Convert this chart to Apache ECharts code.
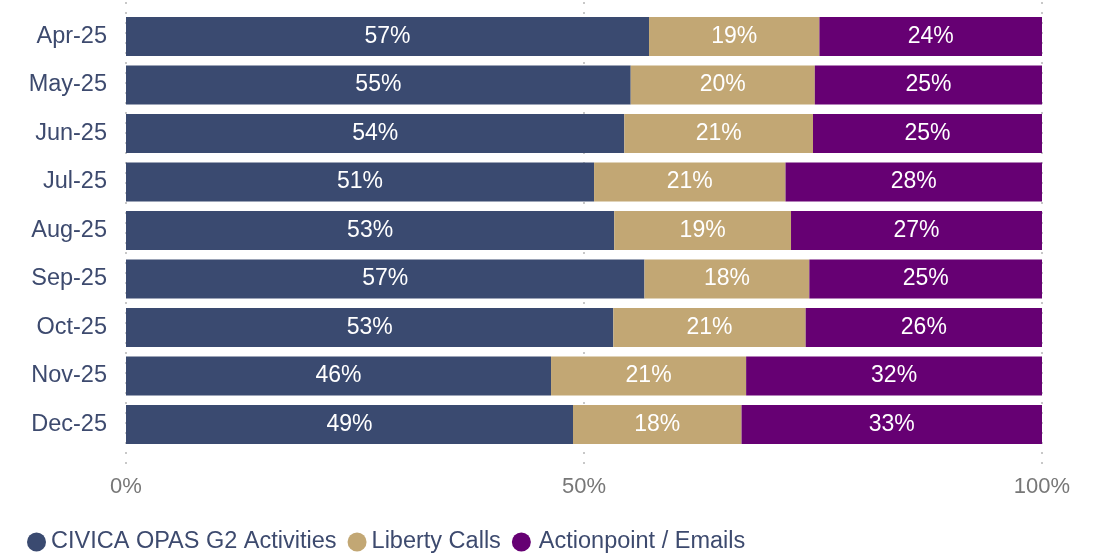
<!DOCTYPE html>
<html>
<head>
<meta charset="utf-8">
<style>
  html, body { margin: 0; padding: 0; background: #ffffff; }
  #chart { width: 1096px; height: 554px; }
</style>
<script src="https://cdn.jsdelivr.net/npm/echarts@6/dist/echarts.min.js"></script>
</head>
<body>
<div id="chart"></div>
<script>
// Monthly share of work by channel (percent of total)
const months = ['Apr-25', 'May-25', 'Jun-25', 'Jul-25', 'Aug-25', 'Sep-25', 'Oct-25', 'Nov-25', 'Dec-25'];
const civicaShare      = [57.1, 55.1, 54.4, 51.1, 53.3, 56.6, 53.2, 46.4, 48.8];
const libertyShare     = [18.6, 20.1, 20.6, 20.9, 19.3, 18.0, 21.0, 21.3, 18.4];
const actionpointShare = [24.3, 24.8, 25.0, 28.0, 27.4, 25.4, 25.8, 32.3, 32.8];
const seriesNames = ['CIVICA OPAS G2 Activities', 'Liberty Calls', 'Actionpoint / Emails'];
const xTicks = [0, 50, 100];

const FONT = '"Liberation Sans", Arial, sans-serif';
const NAVY = '#3a4a70';
const TAN = '#c2a774';
const PURPLE = '#660073';
const LABEL_NAVY = '#3d4a6e';

const chart = echarts.init(document.getElementById('chart'), null, { renderer: 'canvas' });

function barSeries(name, data, color) {
  return {
    name: name,
    type: 'bar',
    stack: 'share',
    xAxisIndex: 0,
    yAxisIndex: 0,
    data: data,
    barWidth: 39,
    itemStyle: { color: color },
    label: {
      show: true,
      position: 'inside',
      color: '#ffffff',
      fontFamily: FONT,
      fontSize: 23,
      formatter: p => Math.round(p.value) + '%'
    },
    emphasis: { disabled: true }
  };
}

chart.setOption({
  animation: false,
  backgroundColor: '#ffffff',
  textStyle: { fontFamily: FONT },
  grid: [
    // bars
    { left: 126, right: 54, top: 12.25, height: 436.5 },
    // dotted percentage guides, running a little past the bars
    { left: 126, right: 54, top: 2, bottom: 89 }
  ],
  xAxis: [
    {
      gridIndex: 0, type: 'value', min: 0, max: 100,
      axisLine: { show: false }, axisTick: { show: false },
      axisLabel: { show: false }, splitLine: { show: false }
    },
    {
      gridIndex: 1, type: 'value', min: xTicks[0], max: xTicks[xTicks.length - 1], interval: 50,
      axisLine: { show: false }, axisTick: { show: false },
      axisLabel: {
        color: '#777777', fontFamily: FONT, fontSize: 22, margin: 11,
        formatter: v => xTicks.includes(v) ? v + '%' : ''
      },
      splitLine: { show: true, lineStyle: { color: '#c8c8c8', width: 2, type: [2, 8] } }
    }
  ],
  yAxis: [
    {
      gridIndex: 0, type: 'category', data: months, inverse: true,
      axisLine: { show: false }, axisTick: { show: false },
      axisLabel: { color: LABEL_NAVY, fontFamily: FONT, fontSize: 23.5, margin: 19 }
    },
    {
      gridIndex: 1, type: 'value', min: 0, max: 1, show: false
    }
  ],
  legend: {
    left: 22,
    top: 525,
    icon: 'circle',
    itemWidth: 19,
    itemHeight: 19,
    itemGap: 11,
    selectedMode: false,
    data: [
      { name: seriesNames[0] },
      { name: seriesNames[1] },
      { name: seriesNames[2], textStyle: { padding: [0, 0, 0, 3] } }
    ],
    textStyle: { color: LABEL_NAVY, fontFamily: FONT, fontSize: 23.5 }
  },
  series: [
    barSeries(seriesNames[0], civicaShare, NAVY),
    barSeries(seriesNames[1], libertyShare, TAN),
    barSeries(seriesNames[2], actionpointShare, PURPLE)
  ]
});
</script>
</body>
</html>
